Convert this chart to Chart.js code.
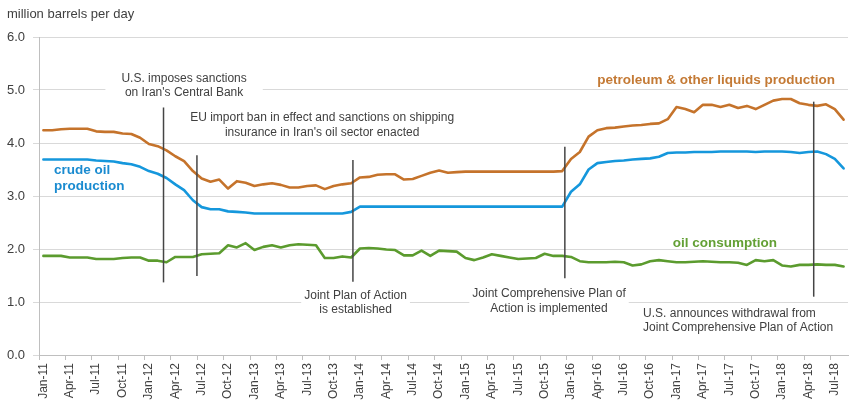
<!DOCTYPE html>
<html>
<head>
<meta charset="utf-8">
<script src="https://cdn.jsdelivr.net/npm/chart.js@4.4.0/dist/chart.umd.min.js"></script>
<style>
  html, body { margin: 0; padding: 0; background: #fff; }
</style>
</head>
<body>
<canvas id="grafico" width="849" height="402"></canvas>
<script>
// categories: monthly, Jan-11 .. Aug-18
const years = ['11', '12', '13', '14', '15', '16', '17', '18'];
const monthNames = ['Jan', 'Feb', 'Mar', 'Apr', 'May', 'Jun', 'Jul', 'Aug', 'Sep', 'Oct', 'Nov', 'Dec'];
const months = [];
years.forEach(a => monthNames.forEach(m => { if (months.length < 92) months.push(m + '-' + a) }));

const yTicks = [0, 1, 2, 3, 4, 5, 6];

// million barrels per day
const petroleum = [
  4.24, 4.24, 4.26, 4.27, 4.27, 4.27, 4.22, 4.21, 4.21, 4.18, 4.17, 4.10,
  3.98, 3.94, 3.86, 3.75, 3.66, 3.47, 3.33, 3.27, 3.31, 3.14, 3.28, 3.25,
  3.19, 3.22, 3.24, 3.21, 3.16, 3.16, 3.19, 3.20, 3.13, 3.19, 3.22, 3.24,
  3.35, 3.36, 3.40, 3.41, 3.41, 3.31, 3.32, 3.38, 3.44, 3.48, 3.44, 3.45,
  3.46, 3.46, 3.46, 3.46, 3.46, 3.46, 3.46, 3.46, 3.46, 3.46, 3.46, 3.47,
  3.70, 3.83, 4.12, 4.24, 4.28, 4.29, 4.31, 4.33, 4.34, 4.36, 4.37, 4.45,
  4.68, 4.64, 4.58, 4.72, 4.72, 4.68, 4.72, 4.66, 4.70, 4.64, 4.72, 4.80,
  4.83, 4.83, 4.75, 4.72, 4.70, 4.73, 4.64, 4.44
];

const crude = [
  3.69, 3.69, 3.69, 3.69, 3.69, 3.69, 3.67, 3.66, 3.65, 3.62, 3.60, 3.55,
  3.47, 3.42, 3.34, 3.22, 3.11, 2.92, 2.79, 2.75, 2.75, 2.71, 2.70, 2.69,
  2.67, 2.67, 2.67, 2.67, 2.67, 2.67, 2.67, 2.67, 2.67, 2.67, 2.67, 2.70,
  2.80, 2.80, 2.80, 2.80, 2.80, 2.80, 2.80, 2.80, 2.80, 2.80, 2.80, 2.80,
  2.80, 2.80, 2.80, 2.80, 2.80, 2.80, 2.80, 2.80, 2.80, 2.80, 2.80, 2.80,
  3.08, 3.22, 3.50, 3.62, 3.64, 3.66, 3.67, 3.69, 3.70, 3.71, 3.74, 3.81,
  3.82, 3.82, 3.83, 3.83, 3.83, 3.84, 3.84, 3.84, 3.84, 3.83, 3.84, 3.84,
  3.84, 3.83, 3.81, 3.83, 3.84, 3.79, 3.70, 3.52
];

const consumption = [
  1.87, 1.87, 1.87, 1.84, 1.84, 1.84, 1.81, 1.81, 1.81, 1.83, 1.84, 1.84,
  1.78, 1.78, 1.75, 1.85, 1.85, 1.85, 1.90, 1.91, 1.92, 2.07, 2.03, 2.11,
  1.98, 2.04, 2.07, 2.03, 2.07, 2.09, 2.08, 2.07, 1.83, 1.83, 1.86, 1.84,
  2.01, 2.02, 2.01, 1.99, 1.98, 1.88, 1.88, 1.97, 1.87, 1.97, 1.96, 1.95,
  1.83, 1.79, 1.84, 1.90, 1.87, 1.84, 1.81, 1.82, 1.83, 1.91, 1.87, 1.87,
  1.85, 1.77, 1.75, 1.75, 1.75, 1.76, 1.75, 1.69, 1.71, 1.77, 1.79, 1.77,
  1.75, 1.75, 1.76, 1.77, 1.76, 1.75, 1.75, 1.74, 1.70, 1.79, 1.77, 1.79,
  1.69, 1.67, 1.70, 1.70, 1.71, 1.70, 1.70, 1.67
];

// events (x = month index, line from 'from' to 'to' in mb/d)
const events = [
  { x: 13.66, from: 1.37, to: 4.67, text: ['U.S. imposes sanctions', "on Iran's Central Bank"], tx: 16.0, ty: 5.08, align: 'center', pad: 16 },
  { x: 17.46, from: 1.49, to: 3.77, text: ['EU import ban in effect and sanctions on shipping', "insurance in Iran's oil sector enacted"], tx: 31.7, ty: 4.34, align: 'center', pad: 3 },
  { x: 35.2, from: 1.38, to: 3.68, text: ['Joint Plan of Action', 'is established'], tx: 35.5, ty: 0.985, align: 'center', pad: 3 },
  { x: 59.3, from: 1.45, to: 3.93, text: ['Joint Comprehensive Plan of', 'Action is implemented'], tx: 57.5, ty: 1.02, align: 'center', pad: 3 },
  { x: 87.6, from: 1.10, to: 4.78, text: ['U.S. announces withdrawal from', 'Joint Comprehensive Plan of Action'], tx: 68.2, ty: 0.645, align: 'left', pad: 3 }
];

const seriesLabels = [
  { text: ['petroleum & other liquids production'], tx: 76.5, ty: 5.18, align: 'center', color: '#c47a35' },
  { text: ['crude oil', 'production'], tx: 1.2, ty: 3.33, align: 'left', color: '#1a8bd0' },
  { text: ['oil consumption'], tx: 77.5, ty: 2.11, align: 'center', color: '#63a035' }
];

const fonte = '"Liberation Sans", Arial, sans-serif';
const lineHeight = 14.5;

const drawings = {
  id: 'drawings',
  beforeDatasetsDraw(chart) {
    const ctx = chart.ctx;
    const x = chart.scales.x, y = chart.scales.y;
    ctx.save();
    ctx.font = '12px ' + fonte;
    events.forEach(a => {
      const px = x.getPixelForValue(a.tx), py = y.getPixelForValue(a.ty);
      const w = Math.max(...a.text.map(t => ctx.measureText(t).width));
      const h = a.text.length * lineHeight + 2;
      const left = a.align == 'left' ? px : px - w / 2;
      ctx.fillStyle = '#fff';
      ctx.fillRect(left - a.pad, py - h / 2, w + 2 * a.pad, h);
    });
    ctx.restore();
  },
  afterDatasetsDraw(chart) {
    const ctx = chart.ctx;
    const x = chart.scales.x, y = chart.scales.y;
    ctx.save();

    // event lines
    ctx.strokeStyle = '#454545';
    ctx.lineWidth = 1.5;
    events.forEach(a => {
      const px = x.getPixelForValue(a.x);
      ctx.beginPath();
      ctx.moveTo(px, y.getPixelForValue(a.to));
      ctx.lineTo(px, y.getPixelForValue(a.from));
      ctx.stroke();
    });

    // event texts
    ctx.font = '12px ' + fonte;
    ctx.fillStyle = '#404040';
    ctx.textBaseline = 'middle';
    events.forEach(a => {
      const px = x.getPixelForValue(a.tx), py = y.getPixelForValue(a.ty);
      ctx.textAlign = a.align;
      a.text.forEach((t, k) => {
        ctx.fillText(t, px, py + (k - (a.text.length - 1) / 2) * lineHeight);
      });
    });

    // series labels
    ctx.font = 'bold 13.5px ' + fonte;
    seriesLabels.forEach(r => {
      const px = x.getPixelForValue(r.tx), py = y.getPixelForValue(r.ty);
      ctx.textAlign = r.align;
      ctx.fillStyle = r.color;
      r.text.forEach((t, k) => {
        ctx.fillText(t, px, py + (k - (r.text.length - 1) / 2) * 16.5);
      });
    });

    // unit title
    ctx.font = '13px ' + fonte;
    ctx.fillStyle = '#404040';
    ctx.textAlign = 'left';
    ctx.fillText('million barrels per day', 7, 14);
    ctx.restore();
  }
};

const data = {
  labels: months,
  datasets: [
    { label: 'petroleum & other liquids production', data: petroleum, borderColor: '#c5732b' },
    { label: 'crude oil production', data: crude, borderColor: '#1597dc' },
    { label: 'oil consumption', data: consumption, borderColor: '#5b9b2e' }
  ]
};

const config = {
  type: 'line',
  data: data,
  plugins: [drawings],
  options: {
    responsive: false,
    animation: false,
    devicePixelRatio: 1,
    layout: { padding: { top: 37, right: 1, left: 0, bottom: 0 } },
    plugins: { legend: { display: false }, tooltip: { enabled: false } },
    elements: {
      point: { radius: 0 },
      line: { tension: 0, borderWidth: 2.6, borderCapStyle: 'round', borderJoinStyle: 'round' }
    },
    scales: {
      x: {
        type: 'category',
        offset: true,
        grid: {
          offset: true,
          drawOnChartArea: false,
          tickLength: 5,
          color: c => c.index % 3 === 0 ? '#bfbfbf' : 'rgba(0,0,0,0)'
        },
        border: { color: '#bfbfbf', width: 1 },
        ticks: {
          autoSkip: false,
          minRotation: 90,
          maxRotation: 90,
          padding: 3,
          color: '#404040',
          font: { family: fonte, size: 12 },
          callback: (v, i) => i % 3 === 0 ? months[i] : ''
        },
        afterFit: s => { s.height = 47; s.paddingLeft = 0; s.paddingRight = 0 }
      },
      y: {
        min: yTicks[0],
        max: yTicks[yTicks.length - 1],
        grid: { color: '#d9d9d9', tickLength: 6 },
        border: { color: '#bfbfbf', width: 1 },
        ticks: {
          stepSize: 1,
          padding: 8,
          color: '#404040',
          font: { family: fonte, size: 13 },
          callback: v => v.toFixed(1)
        },
        afterFit: s => { s.width = 39; s.paddingTop = 0; s.paddingBottom = 0 }
      }
    }
  }
};

const myChart = new Chart(document.getElementById('grafico'), config);
</script>
</body>
</html>
